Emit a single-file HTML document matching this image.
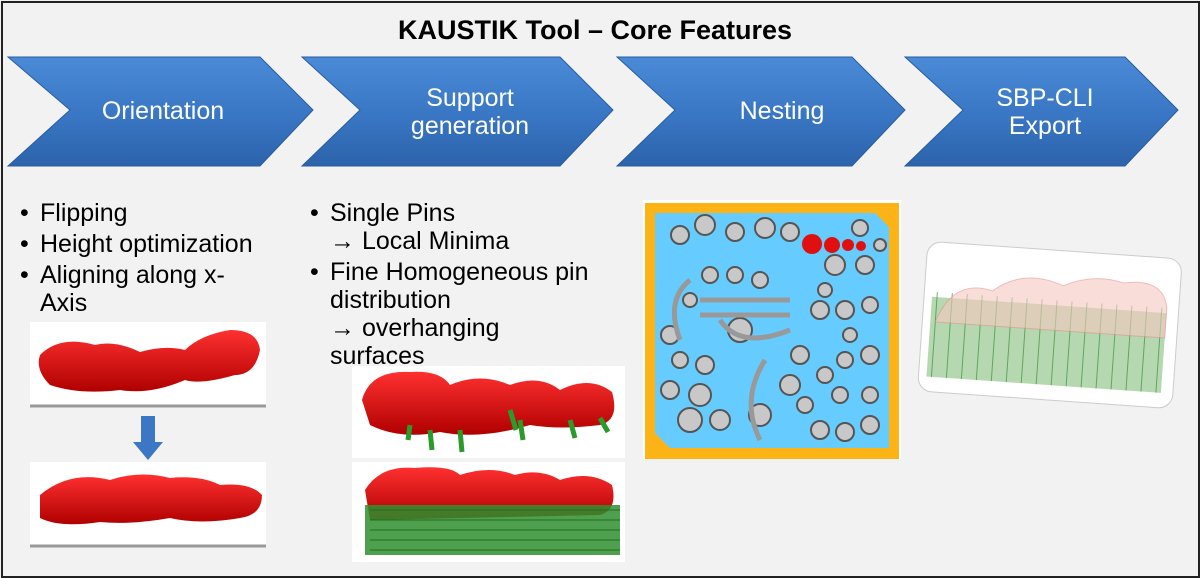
<!DOCTYPE html>
<html><head><style>
body{margin:0;width:1200px;height:578px;background:#f2f2f2;font-family:"Liberation Sans",sans-serif;overflow:hidden;position:relative}
.frame{position:absolute;left:1px;top:1px;width:1195px;height:573px;border:2px solid #222;}
.t{position:absolute;color:#000;font-size:21px}
ul{position:absolute;margin:0;padding:0;list-style:none;font-size:25px;line-height:28px}
li{padding-left:26px;text-indent:-26px;margin-bottom:3px}
li:before{content:"•";display:inline-block;width:26px;text-indent:6px}
</style></head><body>
<div class="frame"></div>
<div class="t" style="left:0;width:1190px;top:15px;text-align:center;font-weight:bold;font-size:27px">KAUSTIK Tool – Core Features</div>
<svg width="1200" height="578" style="position:absolute;left:0;top:0">
<defs><linearGradient id="g" x1="0" y1="0" x2="0" y2="1"><stop offset="0" stop-color="#4a8ad6"/><stop offset="0.5" stop-color="#3a78c6"/><stop offset="1" stop-color="#2c63aa"/></linearGradient>
<linearGradient id="r" x1="0" y1="0" x2="0" y2="1"><stop offset="0" stop-color="#ff3030"/><stop offset="1" stop-color="#b00000"/></linearGradient></defs>
<g fill="url(#g)" stroke="#2a5c9e" stroke-width="1">
<polygon points="8,57 260,57 313,110 260,166 8,166 70,110"/>
<polygon points="302,57 560,57 613,110 560,166 302,166 360,110"/>
<polygon points="617,57 852,57 905,110 852,166 617,166 675,110"/>
<polygon points="905,57 1125,57 1178,110 1125,166 905,166 963,110"/>
</g>
<g fill="#fff" font-size="25" text-anchor="middle" font-family="Liberation Sans">
<text x="163" y="119">Orientation</text>
<text x="470" y="106">Support</text><text x="470" y="134">generation</text>
<text x="782" y="119">Nesting</text>
<text x="1045" y="106">SBP-CLI</text><text x="1045" y="134">Export</text>
</g>
<rect x="30" y="322" width="236" height="85" fill="#fff"/><line x1="30" y1="406" x2="266" y2="406" stroke="#999" stroke-width="3"/>
<path d="M40,355 Q60,335 95,345 Q115,340 140,352 Q165,345 185,350 Q200,335 230,330 Q258,330 260,350 Q255,375 235,375 Q200,385 185,380 Q150,395 120,390 Q80,395 50,385 Q35,370 40,355Z" fill="url(#r)"/>
<rect x="30" y="462" width="236" height="85" fill="#fff"/><line x1="30" y1="546" x2="266" y2="546" stroke="#999" stroke-width="3"/>
<path d="M40,495 Q70,470 110,480 Q140,470 170,478 Q200,475 220,485 Q250,482 262,495 Q262,515 240,518 Q200,525 170,518 Q130,525 100,522 Q60,528 40,518Z" fill="url(#r)"/>
<rect x="141" y="416" width="14" height="28" fill="#3b77c4"/><polygon points="133,442 163,442 148,460" fill="#3b77c4"/>
<rect x="352" y="366" width="273" height="92" fill="#fff"/>
<path d="M362,400 Q370,370 410,372 Q440,370 450,385 Q480,372 510,385 Q540,374 560,390 Q590,375 612,392 Q620,420 600,425 Q560,430 530,425 Q480,440 440,432 Q400,440 370,425Z" fill="url(#r)"/>
<g stroke="#2a9a2a" stroke-width="5"><line x1="410" y1="425" x2="408" y2="440"/><line x1="460" y1="430" x2="462" y2="452"/><line x1="520" y1="420" x2="523" y2="440"/><line x1="570" y1="420" x2="575" y2="438"/><line x1="600" y1="418" x2="608" y2="432"/><line x1="430" y1="430" x2="432" y2="450"/><line x1="510" y1="410" x2="516" y2="430"/></g>
<rect x="352" y="462" width="273" height="100" fill="#fff"/>
<path d="M365,490 Q380,465 415,468 Q450,465 460,475 Q490,465 515,475 Q540,468 560,480 Q590,470 612,485 Q618,510 600,515 L370,520Z" fill="url(#r)"/>
<rect x="365" y="505" width="255" height="50" fill="#2f8f2f" opacity="0.85"/>
<g stroke="#1e6e1e" stroke-width="1">
<line x1="370" y1="510" x2="620" y2="510"/><line x1="370" y1="520" x2="620" y2="520"/><line x1="370" y1="530" x2="620" y2="530"/><line x1="370" y1="540" x2="620" y2="540"/><line x1="370" y1="550" x2="620" y2="550"/></g>
<rect x="643" y="200" width="258" height="259" fill="#fff"/>
<rect x="645" y="203" width="254" height="256" fill="#fbb316"/>
<path d="M655,213 L875,213 L889,227 L889,448 L670,448 L655,433Z" fill="#66ccff"/>
<g fill="#c8c8c8" stroke="#555" stroke-width="2">
<circle cx="680" cy="235" r="9"/><circle cx="705" cy="225" r="10"/><circle cx="735" cy="232" r="9"/><circle cx="765" cy="228" r="10"/><circle cx="790" cy="232" r="9"/><circle cx="860" cy="228" r="8"/><circle cx="880" cy="245" r="6"/>
<circle cx="835" cy="265" r="10"/><circle cx="865" cy="265" r="9"/><circle cx="710" cy="275" r="8"/><circle cx="735" cy="275" r="8"/><circle cx="760" cy="280" r="8"/>
<circle cx="820" cy="310" r="9"/><circle cx="845" cy="310" r="9"/><circle cx="870" cy="305" r="8"/><circle cx="740" cy="330" r="12"/><circle cx="670" cy="335" r="9"/>
<circle cx="680" cy="360" r="8"/><circle cx="705" cy="365" r="9"/><circle cx="670" cy="390" r="9"/><circle cx="700" cy="395" r="11"/><circle cx="690" cy="420" r="12"/><circle cx="720" cy="420" r="10"/>
<circle cx="800" cy="355" r="9"/><circle cx="790" cy="385" r="10"/><circle cx="825" cy="375" r="8"/><circle cx="845" cy="360" r="8"/><circle cx="870" cy="355" r="9"/><circle cx="870" cy="395" r="8"/><circle cx="870" cy="425" r="9"/>
<circle cx="760" cy="415" r="11"/><circle cx="820" cy="430" r="9"/><circle cx="845" cy="432" r="9"/><circle cx="805" cy="405" r="8"/><circle cx="840" cy="395" r="8"/>
<circle cx="690" cy="300" r="7"/><circle cx="825" cy="290" r="7"/><circle cx="850" cy="335" r="7"/></g>
<path d="M690,280 Q665,300 680,340 M700,300 L790,300 M700,315 L790,315 M720,320 Q740,350 790,330 M765,360 Q740,400 760,440" stroke="#999" stroke-width="5" fill="none"/>
<g fill="#e01010"><circle cx="812" cy="244" r="10"/><circle cx="832" cy="245" r="8"/><circle cx="848" cy="245" r="6"/><circle cx="861" cy="246" r="5"/></g>
<g transform="rotate(4 1050 330)">
<rect x="922" y="250" width="255" height="150" rx="14" fill="#fff" stroke="#ccc"/>
<rect x="930" y="305" width="235" height="80" fill="#7ab86f" opacity="0.55"/>
<g stroke="#3e8e3e" stroke-width="1" opacity="0.7">
<line x1="935" y1="300" x2="935" y2="385"/><line x1="950" y1="300" x2="950" y2="385"/><line x1="965" y1="300" x2="965" y2="385"/><line x1="980" y1="300" x2="980" y2="385"/><line x1="995" y1="300" x2="995" y2="385"/><line x1="1010" y1="300" x2="1010" y2="385"/><line x1="1025" y1="300" x2="1025" y2="385"/><line x1="1040" y1="300" x2="1040" y2="385"/><line x1="1055" y1="300" x2="1055" y2="385"/><line x1="1070" y1="300" x2="1070" y2="385"/><line x1="1085" y1="300" x2="1085" y2="385"/><line x1="1100" y1="300" x2="1100" y2="385"/><line x1="1115" y1="300" x2="1115" y2="385"/><line x1="1130" y1="300" x2="1130" y2="385"/><line x1="1145" y1="300" x2="1145" y2="385"/><line x1="1160" y1="300" x2="1160" y2="385"/></g>
<path d="M935,330 Q950,285 990,295 Q1020,270 1060,285 Q1090,270 1120,278 Q1160,270 1165,300 L1165,330Z" fill="#f6c8c0" opacity="0.6" stroke="#e89090"/>
</g>
</svg>
<ul style="left:14px;top:199px;width:250px"><li>Flipping</li><li>Height optimization</li><li>Aligning along x-Axis</li></ul>
<ul style="left:304px;top:199px;width:310px"><li>Single Pins<br>→ Local Minima</li><li>Fine Homogeneous pin distribution<br>→ overhanging<br>surfaces</li></ul>
</body></html>
